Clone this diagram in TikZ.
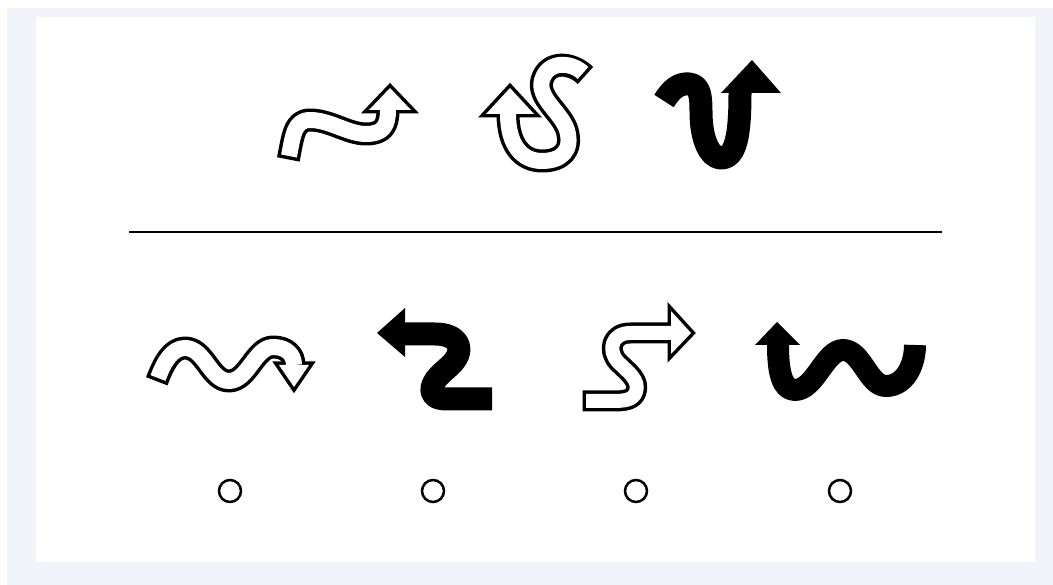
\documentclass[tikz,border=0pt]{standalone}
\definecolor{framegrey}{RGB}{241,245,249}
\begin{document}
\begin{tikzpicture}[x=1pt,y=-1pt,
  shaft/.style={line width=#1, line cap=butt, line join=round},
  rim/.style={draw=black, line width=7pt, line join=miter},
  optcircle/.style={circle, draw, line width=2.5pt, minimum size=22pt, inner sep=0pt}]
  % Frame and card
  \fill[white] (0,0) rectangle (1053,585);
  \fill[framegrey] (7,8) rectangle (1053,585);
  \fill[white] (36,17) rectangle (1035,562);
  \useasboundingbox (0,0) rectangle (1053,585);

  % Top row, first arrow (hollow)
  \draw[shaft=23pt, shorten <=-3.5pt] (289,156) .. controls (293,136) and (294,120) .. (310,120)
    .. controls (330,120) and (348,134) .. (366,134) .. controls (383,134) and (388,126) .. (388,110);
  \draw[rim] (369,110) -- (390,88) -- (411,110) -- cycle;
  \draw[shaft=16pt, white] (289,156) .. controls (293,136) and (294,120) .. (310,120)
    .. controls (330,120) and (348,134) .. (366,134) .. controls (383,134) and (388,126) .. (388,110);
  \fill[white] (369,110) -- (390,88) -- (411,110) -- cycle;

  % Top row, second arrow (hollow)
  \draw[shaft=23pt, shorten <=-3.5pt] (583,73) .. controls (572,62) and (548,60) .. (542,80)
    .. controls (537,98) and (561,112) .. (567,130) .. controls (573,151) and (561,161) .. (542,161)
    .. controls (522,161) and (508,145) .. (508,114);
  \draw[rim] (486,114) -- (510,88) -- (534,114) -- cycle;
  \draw[shaft=16pt, white] (583,73) .. controls (572,62) and (548,60) .. (542,80)
    .. controls (537,98) and (561,112) .. (567,130) .. controls (573,151) and (561,161) .. (542,161)
    .. controls (522,161) and (508,145) .. (508,114);
  \fill[white] (486,114) -- (510,88) -- (534,114) -- cycle;

  % Top row, third arrow (solid)
  \draw[shaft=23pt] (664,101) .. controls (672,88) and (680,83) .. (689,84)
    .. controls (700,85) and (701,96) .. (701,112) .. controls (701,140) and (710,158) .. (721,158)
    .. controls (736,158) and (740,135) .. (740,93);
  \fill (721,93) -- (752,60) -- (781,93) -- cycle;

  % Divider
  \draw[line width=2.2pt] (129,232) -- (942,232);

  % Bottom row, first arrow (hollow)
  \draw[shaft=23pt, shorten <=-3.5pt] (158,378) .. controls (164,362) and (172,348) .. (185,348)
    .. controls (205,348) and (210,381) .. (229,381) .. controls (248,381) and (255,347) .. (273,347)
    .. controls (287,347) and (294,355) .. (294,365);
  \draw[rim] (279,365) -- (294,387) -- (309,365) -- cycle;
  \draw[shaft=16pt, white] (158,378) .. controls (164,362) and (172,348) .. (185,348)
    .. controls (205,348) and (210,381) .. (229,381) .. controls (248,381) and (255,347) .. (273,347)
    .. controls (287,347) and (294,355) .. (294,365);
  \fill[white] (279,365) -- (294,387) -- (309,365) -- cycle;

  % Bottom row, second arrow (solid)
  \draw[shaft=23pt] (404,334) -- (435,334) .. controls (458,334) and (464,348) .. (455,360)
    .. controls (450,368) and (434,376) .. (432,388) .. controls (431,397) and (438,399) .. (448,399)
    -- (492,399);
  \fill (405,308) -- (377,333) -- (405,357) -- cycle;

  % Bottom row, third arrow (hollow)
  \draw[shaft=21pt, shorten <=-3.5pt] (586,401) -- (612,401) .. controls (625,401) and (633,400) .. (636,392)
    .. controls (640,380) and (628,372) .. (618,362) .. controls (607,350) and (612,333) .. (630,333)
    -- (671,333);
  \draw[rim] (671,311) -- (691,333) -- (671,354) -- cycle;
  \draw[shaft=14pt, white] (586,401) -- (612,401) .. controls (625,401) and (633,400) .. (636,392)
    .. controls (640,380) and (628,372) .. (618,362) .. controls (607,350) and (612,333) .. (630,333)
    -- (671,333);
  \fill[white] (671,311) -- (691,333) -- (671,354) -- cycle;

  % Bottom row, fourth arrow (solid)
  \draw[shaft=22pt] (778,345) .. controls (778,372) and (782,390) .. (795,390)
    .. controls (815,390) and (825,350) .. (843,350) .. controls (862,350) and (868,386) .. (886,386)
    .. controls (905,386) and (915,365) .. (915,345);
  \fill (755,345) -- (777,322) -- (800,345) -- cycle;

  % Answer options
  \node[optcircle] (optA) at (230,491) {};
  \node[optcircle] (optB) at (433,491) {};
  \node[optcircle] (optC) at (636,491) {};
  \node[optcircle] (optD) at (840,491) {};
\end{tikzpicture}
\end{document}
